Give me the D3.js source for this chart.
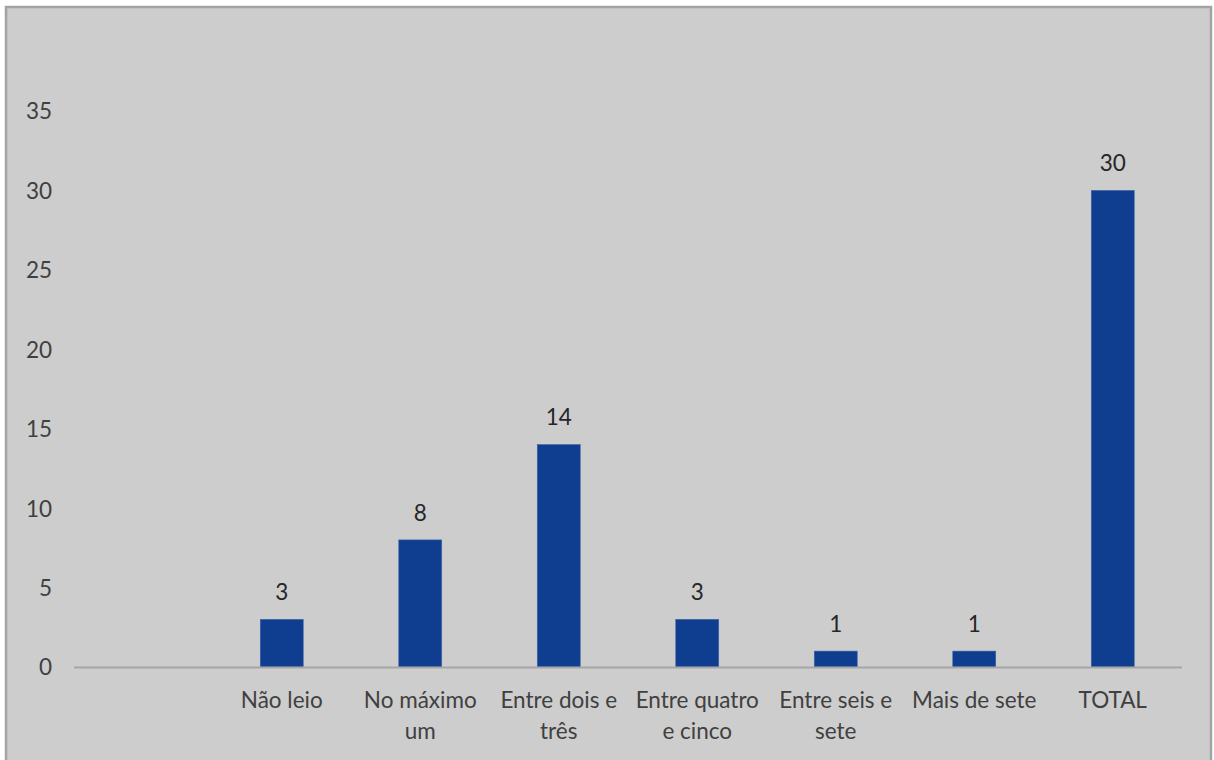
<!DOCTYPE html>
<html>
<head>
<meta charset="utf-8">
<script src="https://cdn.jsdelivr.net/npm/d3@7"></script>
<style>
  html, body { margin: 0; padding: 0; background: #ffffff; }
  svg { display: block; }
  text { font-family: Lato, "Open Sans", "Liberation Sans", sans-serif; }
</style>
</head>
<body>
<svg id="chart" width="1214" height="760"></svg>
<script>
const categories = ["", "Não leio", "No máximo|um", "Entre dois e|três", "Entre quatro|e cinco", "Entre seis e|sete", "Mais de sete", "TOTAL"];
const values = [null, 3, 8, 14, 3, 1, 1, 30];
const yTicks = [0, 5, 10, 15, 20, 25, 30, 35];

const FONT = "Lato, 'Open Sans', sans-serif";
const FS = 22.5;

const svg = d3.select("#chart");

// chart background and frame
svg.append("rect").attr("x", 6).attr("y", 7).attr("width", 1205).attr("height", 760)
  .attr("fill", "#cdcdcd").attr("stroke", "#a3a3a3").attr("stroke-width", 2.5);

const plot = { left: 74, right: 1182, top: 111, bottom: 667 };

const x = d3.scaleBand().domain(categories).range([plot.left, plot.right]).paddingInner(0.69).paddingOuter(0.345);
const y = d3.scaleLinear().domain([0, 35]).range([plot.bottom, plot.top]);

// y axis labels
const yAxis = d3.axisLeft(y).tickValues(yTicks).tickSize(0).tickPadding(0);
const gy = svg.append("g").attr("transform", "translate(52,0)").call(yAxis);
gy.select(".domain").remove();
gy.selectAll("text").attr("font-size", FS).attr("fill", "#404040")
  .attr("font-family", FONT).attr("dy", "0.35em");

// bars
const data = categories.map((c, i) => ({ c, v: values[i] })).filter(d => d.v !== null);
svg.append("g").selectAll("rect").data(data).join("rect")
  .attr("x", d => x(d.c))
  .attr("y", d => y(d.v))
  .attr("width", x.bandwidth())
  .attr("height", d => y(0) - y(d.v))
  .attr("fill", "#0f3d8f")
  .attr("stroke", "#3a62a8").attr("stroke-width", 0.6);

// x axis line
svg.append("line").attr("x1", plot.left).attr("x2", plot.right)
  .attr("y1", y(0) + 0.5).attr("y2", y(0) + 0.5)
  .attr("stroke", "#a6a6a6").attr("stroke-width", 2);

// data labels
svg.append("g").selectAll("text").data(data).join("text")
  .attr("x", d => x(d.c) + x.bandwidth() / 2)
  .attr("y", d => y(d.v) - 27)
  .attr("dy", "0.35em")
  .attr("text-anchor", "middle")
  .attr("font-size", FS).attr("fill", "#262626")
  .text(d => d.v);

// category labels
const cg = svg.append("g").selectAll("text").data(categories.filter(c => c !== "")).join("text")
  .attr("text-anchor", "middle")
  .attr("font-size", FS).attr("fill", "#404040");
cg.each(function(d) {
  const t = d3.select(this);
  const cx = x(d) + x.bandwidth() / 2;
  d.split("|").forEach((line, i) => {
    t.append("tspan").attr("x", cx).attr("y", 700 + i * 31).attr("dy", "0.35em").text(line);
  });
});
</script>
</body>
</html>
